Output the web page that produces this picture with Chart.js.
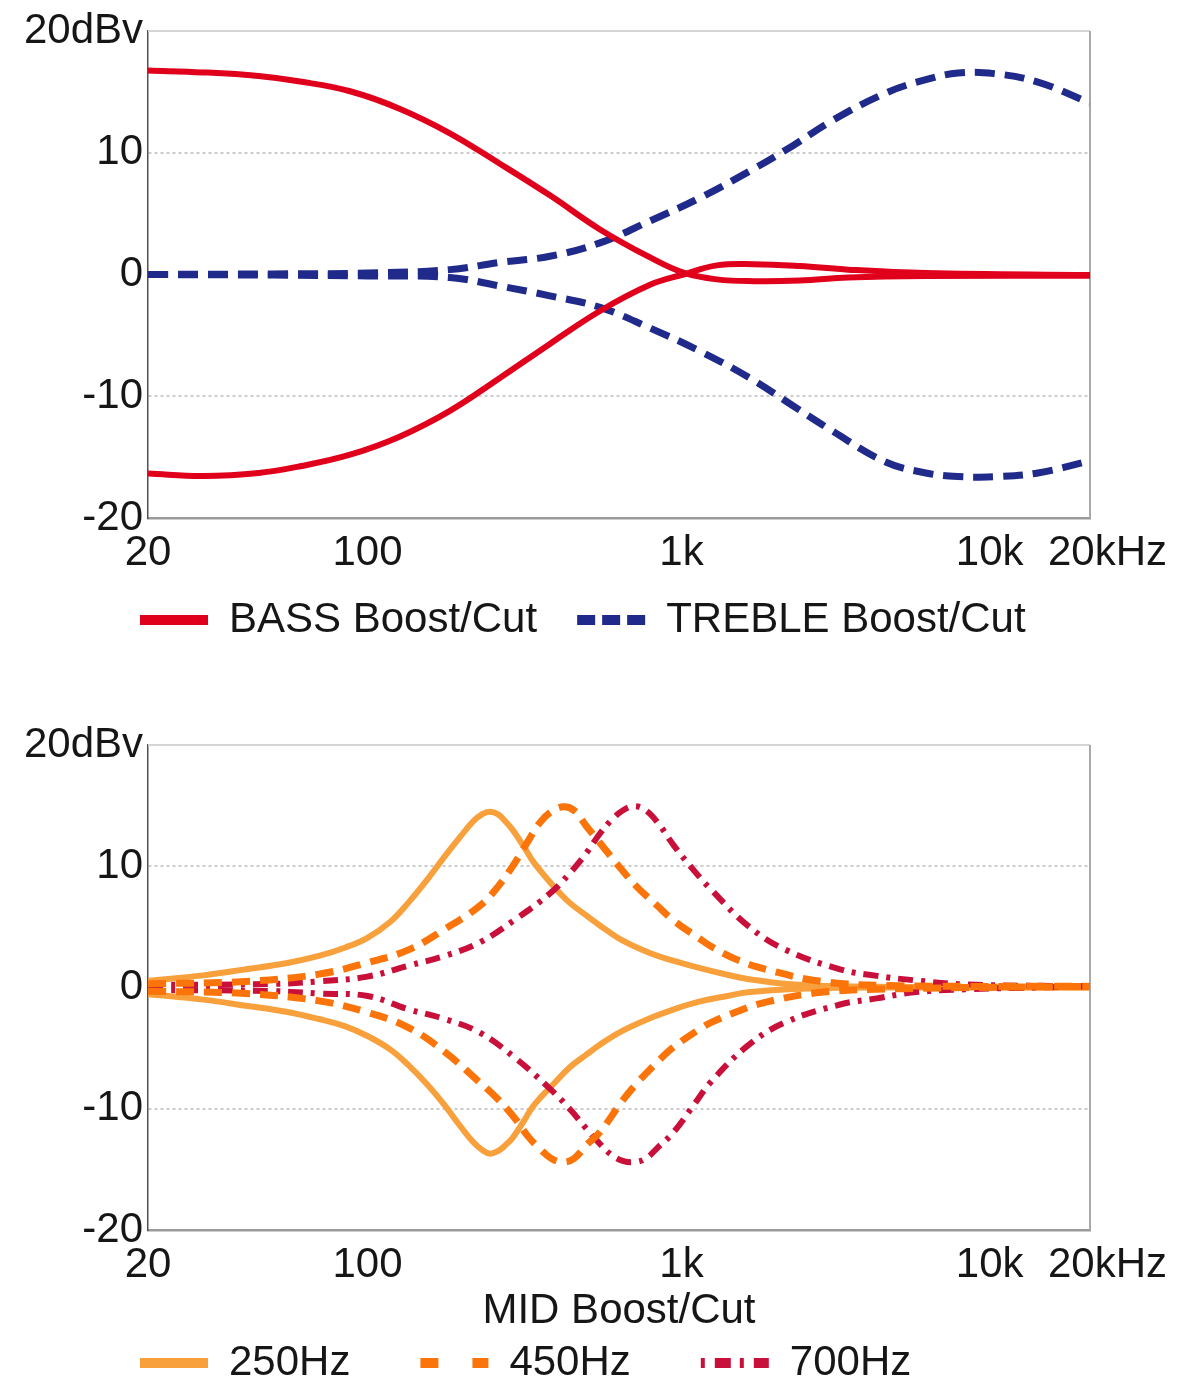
<!DOCTYPE html>
<html>
<head>
<meta charset="utf-8">
<script src="https://cdn.jsdelivr.net/npm/chart.js@4.4.1/dist/chart.umd.min.js"></script>
<style>
  html, body { margin: 0; padding: 0; background: #ffffff; }
  #wrap { position: relative; width: 1179px; height: 1400px; overflow: hidden; }
  #c1 { position: absolute; left: 0; top: 0; }
  #c2 { position: absolute; left: 0; top: 714px; }
</style>
</head>
<body>
<div id="wrap">
  <canvas id="c1" width="1179" height="670"></canvas>
  <canvas id="c2" width="1179" height="686"></canvas>
</div>
<script>
// ---------- axis ticks ----------
const xTickValues = [20, 100, 1000, 10000, 20000];
const xTickLabels = ['20', '100', '1k', '10k', '20kHz'];
const yTickValues = [-20, -10, 0, 10, 20];
const yTickLabels = ['-20', '-10', '0', '10', '20dBv'];

// ---------- top chart: BASS / TREBLE ----------
const bassFreq  = [20, 30, 45, 61, 88, 127, 183, 264, 381, 550, 794, 1014, 1295, 1700, 2380, 3400, 6000, 20000];
const bassBoost = [16.75, 16.6, 16.3, 15.85, 15.05, 13.6, 11.6, 9.1, 6.5, 3.7, 1.4, 0.15, -0.4, -0.55, -0.5, -0.25, -0.12, -0.1];
const bassCut   = [-16.35, -16.55, -16.3, -15.75, -14.8, -13.3, -11.2, -8.5, -5.7, -3.0, -0.85, 0.0, 0.75, 0.85, 0.7, 0.4, 0.12, -0.05];

const trebleFreq  = [20, 50, 100, 183, 264, 381, 550, 794, 1146, 1650, 2270, 3000, 4470, 6000, 7600, 9900, 13650, 20000];
const trebleBoost = [0.0, 0.05, 0.12, 0.4, 1.0, 1.5, 2.6, 4.4, 6.3, 8.5, 10.6, 12.6, 14.9, 16.0, 16.55, 16.5, 15.8, 14.1];
const trebleCut   = [0.0, -0.05, -0.12, -0.25, -0.95, -1.75, -2.7, -4.4, -6.3, -8.5, -10.8, -12.8, -15.4, -16.3, -16.6, -16.6, -16.3, -15.3];

// ---------- bottom chart: MID 250 / 450 / 700 Hz ----------
const mid250Freq  = [20, 30, 41, 55, 70, 85, 100, 118, 135, 155, 176, 197, 217, 232, 245, 260, 275, 290, 315, 339, 390, 440, 500, 551, 646, 800, 946, 1146, 1400, 1626, 2400, 5000, 20000];
const mid250Boost = [0.55, 1.0, 1.5, 2.0, 2.6, 3.3, 4.1, 5.4, 7.0, 8.9, 10.8, 12.4, 13.7, 14.3, 14.5, 14.3, 13.7, 13.0, 11.6, 10.3, 8.4, 7.0, 5.9, 5.1, 3.9, 2.8, 2.2, 1.6, 1.05, 0.7, 0.2, 0.05, 0.0];
const mid250Cut   = [-0.55, -1.0, -1.5, -2.0, -2.6, -3.2, -4.0, -5.1, -6.4, -8.0, -9.7, -11.4, -12.75, -13.4, -13.7, -13.5, -13.0, -12.4, -11.0, -9.7, -8.0, -6.6, -5.5, -4.7, -3.6, -2.5, -1.8, -1.15, -0.7, -0.4, -0.1, 0.0, 0.0];

const mid450Freq  = [20, 41, 70, 100, 135, 176, 227, 260, 295, 325, 354, 385, 420, 455, 498, 551, 646, 721, 841, 946, 1146, 1240, 1500, 1860, 2790, 5000, 20000];
const mid450Boost = [0.3, 0.5, 1.1, 2.05, 3.1, 4.8, 6.7, 8.3, 10.3, 12.1, 13.6, 14.5, 14.9, 14.6, 13.3, 11.9, 9.7, 8.3, 6.7, 5.5, 4.0, 3.4, 2.3, 1.5, 0.5, 0.15, 0.1];
const mid450Cut   = [-0.3, -0.5, -1.1, -2.05, -3.3, -5.3, -7.8, -9.2, -10.8, -12.3, -13.3, -14.1, -14.4, -14.1, -13.0, -11.9, -9.4, -7.9, -6.1, -4.9, -3.4, -2.9, -2.0, -1.2, -0.4, -0.1, 0.1];

const mid700Freq  = [20, 50, 70, 100, 135, 176, 227, 295, 383, 440, 498, 550, 598, 650, 709, 770, 840, 946, 1100, 1240, 1626, 2130, 3200, 4190, 5500, 8000, 20000];
const mid700Boost = [0.2, 0.3, 0.5, 0.9, 1.8, 2.6, 3.7, 5.6, 7.8, 9.4, 11.1, 12.7, 13.8, 14.6, 14.95, 14.6, 13.6, 11.7, 9.6, 8.1, 5.1, 3.15, 1.5, 0.96, 0.6, 0.25, 0.1];
const mid700Cut   = [-0.2, -0.3, -0.5, -0.7, -1.8, -2.6, -3.7, -5.8, -8.4, -10.0, -11.65, -12.9, -13.8, -14.3, -14.4, -14.1, -13.2, -11.9, -9.6, -7.8, -4.8, -2.9, -1.4, -0.9, -0.4, -0.15, 0.1];

// ---------- helpers ----------
const FONT = "'Liberation Sans', Arial, Helvetica, sans-serif";
const TEXT = '#161616';
Chart.defaults.font.family = FONT;
Chart.defaults.color = TEXT;

function pts(freq, vals) { return freq.map((f, i) => ({ x: f, y: vals[i] })); }

function series(label, freq, vals, color, width, dash, inLegend, legendDash, order) {
  return {
    label: label,
    data: pts(freq, vals),
    borderColor: color,
    backgroundColor: color,
    borderWidth: width,
    borderDash: dash,
    borderCapStyle: 'butt',
    borderJoinStyle: 'round',
    pointRadius: 0,
    pointHoverRadius: 0,
    tension: 0.4,
    fill: false,
    order: order,
    showInLegend: inLegend,
    legendDash: legendDash
  };
}

const framePlugin = {
  id: 'frame',
  beforeDatasetsDraw(chart) {
    const { ctx, chartArea: a } = chart;
    ctx.save();
    ctx.lineWidth = 2;
    ctx.strokeStyle = '#d4d4d4';
    ctx.beginPath(); ctx.moveTo(a.left, a.top); ctx.lineTo(a.right, a.top); ctx.stroke();
    ctx.strokeStyle = '#a9a9a9';
    ctx.beginPath(); ctx.moveTo(a.right, a.top); ctx.lineTo(a.right, a.bottom); ctx.stroke();
    ctx.restore();
  }
};

// tick labels may extend beyond the (deliberately compact) axis boxes
function noLabelClip(scale) { scale._computeLabelArea = () => undefined; }

// small horizontal nudges of the two crowded right-hand labels (as in the original figure)
function xLabelText(i) {
  const t = xTickLabels[i];
  if (t === '20kHz') return '   ' + t;
  if (t === '10k') return t + ' ';
  return t;
}

function makeOptions(cfg) {
  return {
    responsive: false,
    animation: false,
    events: [],
    layout: { padding: cfg.padding },
    scales: {
      x: {
        type: 'logarithmic',
        min: 20, max: 20000,
        afterBuildTicks(scale) { scale.ticks = xTickValues.map(v => ({ value: v })); },
        afterFit(scale) { scale.height = cfg.xHeight; noLabelClip(scale); },
        ticks: {
          autoSkip: false, maxRotation: 0, minRotation: 0, padding: 10,
          font: { size: 42 }, color: TEXT,
          callback: (v) => { const i = xTickValues.indexOf(Number(v)); return i >= 0 ? xLabelText(i) : ''; }
        },
        grid: { display: false, drawTicks: false },
        border: { display: true, color: '#9a9a9a', width: 2.5 }
      },
      y: {
        type: 'linear',
        min: -20, max: 20,
        afterBuildTicks(scale) { scale.ticks = yTickValues.map(v => ({ value: v })); },
        afterFit(scale) { scale.width = cfg.yWidth; noLabelClip(scale); },
        ticks: {
          padding: 5, font: { size: 42 }, color: TEXT,
          callback: (v) => { const i = yTickValues.indexOf(Number(v)); return i >= 0 ? yTickLabels[i] : ''; }
        },
        grid: {
          drawTicks: false,
          lineWidth: 2,
          color: (c) => (c.tick && Math.abs(c.tick.value) === 10) ? 'rgba(0,0,0,0.2)' : 'rgba(0,0,0,0)'
        },
        border: { display: true, color: '#505050', width: 1.5, dash: [3, 3] }
      }
    },
    plugins: {
      tooltip: { enabled: false },
      title: cfg.title,
      legend: {
        display: true,
        position: 'bottom',
        align: 'start',
        labels: {
          usePointStyle: true,
          pointStyle: 'line',
          pointStyleWidth: 68,
          padding: cfg.legendPadding,
          color: TEXT,
          font: { size: 42 },
          generateLabels(chart) {
            const items = Chart.defaults.plugins.legend.labels.generateLabels(chart);
            return items
              .filter(it => chart.data.datasets[it.datasetIndex].showInLegend)
              .sort((a, b) => a.datasetIndex - b.datasetIndex)
              .map(it => {
                const ds = chart.data.datasets[it.datasetIndex];
                it.pointStyle = 'line';
                it.lineWidth = 10;
                it.lineDash = ds.legendDash;
                it.lineCap = 'butt';
                return it;
              });
          }
        }
      }
    }
  };
}

// ---------- top chart ----------
const RED = '#e0001b';
const NAVY = '#1f2a8a';
new Chart(document.getElementById('c1'), {
  type: 'line',
  data: {
    datasets: [
      series('BASS Boost/Cut', bassFreq, bassBoost, RED, 6, [], true, [], 0),
      series('BASS Cut', bassFreq, bassCut, RED, 6, [], false, [], 0),
      series('TREBLE Boost/Cut', trebleFreq, trebleBoost, NAVY, 7, [20, 10], true, [18, 7], 1),
      series('TREBLE Cut', trebleFreq, trebleCut, NAVY, 7, [20, 10], false, [18, 7], 1)
    ]
  },
  options: makeOptions({
    padding: { top: 31, left: 100, right: 89, bottom: 19 },
    xHeight: 41, yWidth: 48, legendPadding: 40,
    title: { display: false }
  }),
  plugins: [framePlugin]
});

// ---------- bottom chart ----------
const OR_LIGHT = '#f7a03c';
const OR = '#fb7409';
const CRIMSON = '#c9103a';
new Chart(document.getElementById('c2'), {
  type: 'line',
  data: {
    datasets: [
      series('250Hz', mid250Freq, mid250Boost, OR_LIGHT, 6, [], true, [], 2),
      series('250Hz cut', mid250Freq, mid250Cut, OR_LIGHT, 6, [], false, [], 2),
      series('450Hz', mid450Freq, mid450Boost, OR, 7, [18, 10], true, [18, 34], 0),
      series('450Hz cut', mid450Freq, mid450Cut, OR, 7, [18, 10], false, [18, 34], 0),
      series('700Hz', mid700Freq, mid700Boost, CRIMSON, 6, [15, 8, 4, 8], true, [4, 10, 16, 9], 1),
      series('700Hz cut', mid700Freq, mid700Cut, CRIMSON, 6, [15, 8, 4, 8], false, [4, 10, 16, 9], 1)
    ]
  },
  options: makeOptions({
    padding: { top: 31, left: 70, right: 89, bottom: 6 },
    xHeight: 36, yWidth: 78, legendPadding: 70,
    title: {
      display: true,
      text: 'MID Boost/Cut',
      position: 'bottom',
      weight: 500,
      fullSize: false,
      color: TEXT,
      font: { size: 42, weight: 'normal' },
      padding: { top: 19.8, bottom: -64.2 }
    }
  }),
  plugins: [framePlugin]
});
</script>
</body>
</html>
